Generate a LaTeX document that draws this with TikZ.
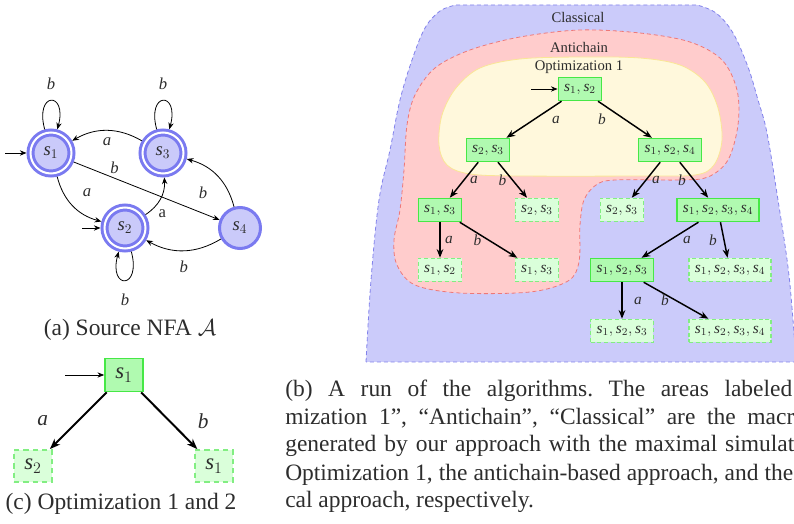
\documentclass[tikz,border=0pt]{standalone}
\usepackage{fontspec}
\setmainfont{Liberation Serif}
\usetikzlibrary{arrows.meta}
\frenchspacing
\definecolor{txt}{RGB}{45,45,45}
\definecolor{clsF}{RGB}{203,203,250}
\definecolor{clsD}{RGB}{130,130,235}
\definecolor{antF}{RGB}{255,204,204}
\definecolor{antD}{RGB}{238,120,120}
\definecolor{optF}{RGB}{255,248,220}
\definecolor{optD}{RGB}{250,230,150}
\definecolor{gS}{RGB}{70,232,70}
\definecolor{gF}{RGB}{176,250,176}
\definecolor{gD}{RGB}{130,238,130}
\definecolor{gDF}{RGB}{218,255,218}
\definecolor{nfaF}{RGB}{202,202,250}
\definecolor{nfaD}{RGB}{122,122,240}
\newcommand\sv[1]{\textit{s}_{#1}}
\tikzset{
  region/.style={line width=0.6pt, dash pattern=on 3pt off 2.2pt},
  rlab/.style={font=\fontsize{11}{13}\selectfont, text=txt},
  lab/.style={font=\fontsize{11.5}{13}\selectfont\itshape, text=txt, inner sep=0pt},
  nlab/.style={font=\fontsize{12.5}{14}\selectfont\itshape, text=txt, inner sep=0pt},
  tsolid/.style={draw=gS, fill=gF, line width=1.1pt, minimum height=17.25pt, inner xsep=4.4pt, inner ysep=1pt, font=\fontsize{11.5}{13}\selectfont, text=txt},
  tdash/.style={tsolid, draw=gD, fill=gDF, dash pattern=on 3pt off 2pt},
  csolid/.style={draw=gS, fill=gF, line width=1.3pt, minimum width=28.5pt, minimum height=24.75pt, inner sep=1pt, font=\fontsize{17}{19}\selectfont, text=txt},
  cdash/.style={csolid, draw=gD, fill=gDF, minimum height=24pt, dash pattern=on 4pt off 3pt},
  state/.style={circle, draw=nfaD, fill=nfaF, line width=2.25pt, minimum size=30.75pt, inner sep=0pt, font=\fontsize{14}{16}\selectfont, text=txt},
  acc/.style={state, double=white, double distance=1.5pt, outer sep=3pt},
  nedge/.style={line width=0.6pt, -{Stealth[length=5pt,width=4pt]}},
  tedge/.style={line width=1.1pt, -{Stealth[length=6.5pt,width=5pt]}},
  cedge/.style={line width=1.5pt, -{Stealth[length=8pt,width=6pt]}},
  captxt/.style={font=\fontsize{17.6}{21}\selectfont, text=txt, inner sep=0pt, anchor=base west}
}
\begin{document}
\begin{tikzpicture}[x=0.75pt,y=0.75pt]
\useasboundingbox (0,0) rectangle (794,-524);
\clip (0,0) rectangle (794,-524);

% ---------- regions ----------
\path[region, draw=clsD, fill=clsF]
  plot[smooth, tension=0.6] coordinates {(366,-362) (371,-280) (379,-200) (390,-150) (400,-100) (412,-60) (425,-28) (440,-11) (456,-5)}
  -- plot[smooth, tension=0.6] coordinates {(697,-5) (716,-13) (733,-33) (748,-67) (758,-100) (767,-133) (778,-200) (788,-267) (793,-320) (796,-362)}
  -- cycle;
\path[region, draw=antD, fill=antF]
  plot[smooth cycle, tension=0.55] coordinates {(580,-30) (640,-33) (690,-42) (722,-60) (737,-90) (738,-125) (728,-160) (708,-177) (680,-180) (615,-180) (596,-185) (584,-200) (580,-225) (579,-262) (568,-281) (530,-292) (460,-293) (415,-285) (397,-265) (394,-240) (400,-210) (404,-170) (407,-125) (415,-95) (435,-68) (470,-50) (520,-37)};
\path[draw=optD, fill=optF, line width=0.6pt]
  plot[smooth cycle, tension=0.55] coordinates {(580,-57) (640,-58) (680,-65) (705,-82) (718,-108) (722,-140) (714,-165) (695,-175) (640,-176) (520,-176) (470,-174) (447,-165) (439,-145) (442,-115) (456,-88) (480,-68) (520,-59)};

\node[rlab] (lcls) at (578,-17) {Classical};
\node[rlab] (lant) at (579,-47) {Antichain};
\node[rlab] (lopt) at (579,-67) {Optimization 1};

% ---------- tree (b) ----------
\node[tsolid] (t12)   at (580,-89)  {$\sv1,\sv2$};
\node[tsolid] (t23)   at (488,-150) {$\sv2,\sv3$};
\node[tsolid] (t124)  at (670,-150) {$\sv1,\sv2,\sv4$};
\node[tsolid] (t13)   at (440,-210) {$\sv1,\sv3$};
\node[tdash]  (d23a)  at (537,-210) {$\sv2,\sv3$};
\node[tdash]  (d23b)  at (622,-210) {$\sv2,\sv3$};
\node[tsolid] (t1234) at (718,-210) {$\sv1,\sv2,\sv3,\sv4$};
\node[tdash]  (d12)   at (440,-270) {$\sv1,\sv2$};
\node[tdash]  (d13)   at (537,-270) {$\sv1,\sv3$};
\node[tsolid] (t123)  at (622,-270) {$\sv1,\sv2,\sv3$};
\node[tdash]  (d1234a) at (730,-270) {$\sv1,\sv2,\sv3,\sv4$};
\node[tdash]  (d123)  at (622,-331) {$\sv1,\sv2,\sv3$};
\node[tdash]  (d1234b) at (730,-331) {$\sv1,\sv2,\sv3,\sv4$};
\coordinate (i12) at (531,-89);

\draw[nedge] (i12) -- (t12);
\draw[tedge] (t12) -- node[lab, pos=.5, xshift=16.5pt] {a} (t23);
\draw[tedge] (t12) -- node[lab, pos=.5, xshift=-17.25pt] {b} (t124);
\draw[tedge] (t23) -- node[lab, pos=.5, xshift=7.5pt] {a} (t13);
\draw[tedge] (t23) -- node[lab, pos=.5, xshift=-7.5pt] {b} (d23a);
\draw[tedge] (t124) -- node[lab, pos=.5, xshift=7.5pt] {a} (d23b);
\draw[tedge] (t124) -- node[lab, pos=.5, xshift=-9pt] {b} (t1234);
\draw[tedge] (t13) -- node[lab, pos=.5, xshift=6.75pt] {a} (d12);
\draw[tedge] (t13) -- node[lab, pos=.5, xshift=-8.25pt] {b} (d13);
\draw[tedge] (t1234) -- node[lab, pos=.5, xshift=12.75pt] {a} (t123);
\draw[tedge] (t1234) -- node[lab, pos=.5, xshift=-8.25pt] {b} (d1234a);
\draw[tedge] (t123) -- node[lab, pos=.5, xshift=12pt] {a} (d123);
\draw[tedge] (t123) -- node[lab, pos=.5, xshift=-8.25pt] {b} (d1234b);

% ---------- NFA (a) ----------
\node[acc]   (s1) at (51,-153)  {$\sv1$};
\node[acc]   (s3) at (163,-153) {$\sv3$};
\node[acc]   (s2) at (125,-228) {$\sv2$};
\node[state] (s4) at (240,-228) {$\sv4$};
\coordinate (i1) at (5,-153);
\coordinate (i2) at (82,-228);

\draw[nedge] (i1) -- (s1);
\draw[nedge] (i2) -- (s2);
\draw[nedge] (s1) to[loop above] node[nlab, yshift=7.9pt] {b} (s1);
\draw[nedge] (s3) to[loop above] node[nlab, yshift=7.9pt] {b} (s3);
\draw[nedge] (s2) to[loop below] node[nlab, yshift=-10pt] {b} (s2);
\draw[nedge] (s3) to[bend right=30] node[nlab, pos=.5, yshift=-8.6pt] {a} (s1);
\draw[nedge] (s1) to[bend right=30] node[nlab, pos=.5, xshift=10.7pt, yshift=9.6pt] {a} (s2);
\draw[nedge] (s1) -- node[nlab, pos=.28, yshift=7.5pt] {b} (s4);
\draw[nedge] (s2) to[bend right=30] node[nlab, pos=.5, xshift=1.5pt, yshift=-10.8pt, font=\fontsize{12.5}{14}\selectfont\upshape] {a} (s3);
\draw[nedge] (s4) to[bend right=30] node[nlab, pos=.5, xshift=-10.7pt, yshift=-12.8pt] {b} (s3);
\draw[nedge] (s4) to[bend left=30] node[nlab, pos=.5, yshift=-12.3pt] {b} (s2);

\node[captxt, anchor=base] (capa) at (130,-336) {(a) Source NFA $\mathcal{A}$};

% ---------- (c) ----------
\node[csolid] (c1) at (124,-375) {$\sv1$};
\node[cdash]  (c2) at (33,-466)  {$\sv2$};
\node[cdash]  (c3) at (214,-466) {$\sv1$};
\coordinate (ic) at (65,-375);
\draw[nedge] (ic) -- (c1);
\draw[cedge] (c1) -- node[lab, font=\fontsize{16}{18}\selectfont\itshape, pos=.5, xshift=-26.6pt] {a} (c2);
\draw[cedge] (c1) -- node[lab, font=\fontsize{16}{18}\selectfont\itshape, pos=.5, xshift=25.5pt] {b} (c3);
\node[captxt, anchor=base] (capc) at (121,-510) {(c) Optimization 1 and 2};

% ---------- caption (b) ----------
\node[captxt] (cb1) at (285,-397) {\makebox[380.25pt][s]{(b) A run of the algorithms. The areas labeled}};
\node[captxt] (cb2) at (285,-425) {\makebox[381.75pt][s]{mization 1'', ``Antichain'', ``Classical'' are the macr}};
\node[captxt] (cb3) at (285,-452) {\makebox[381.75pt][s]{generated by our approach with the maximal simulat}};
\node[captxt] (cb4) at (285,-480) {\makebox[381pt][s]{Optimization 1, the antichain-based approach, and the}};
\node[captxt] (cb5) at (285,-508) {cal approach, respectively.};
\end{tikzpicture}
\end{document}
